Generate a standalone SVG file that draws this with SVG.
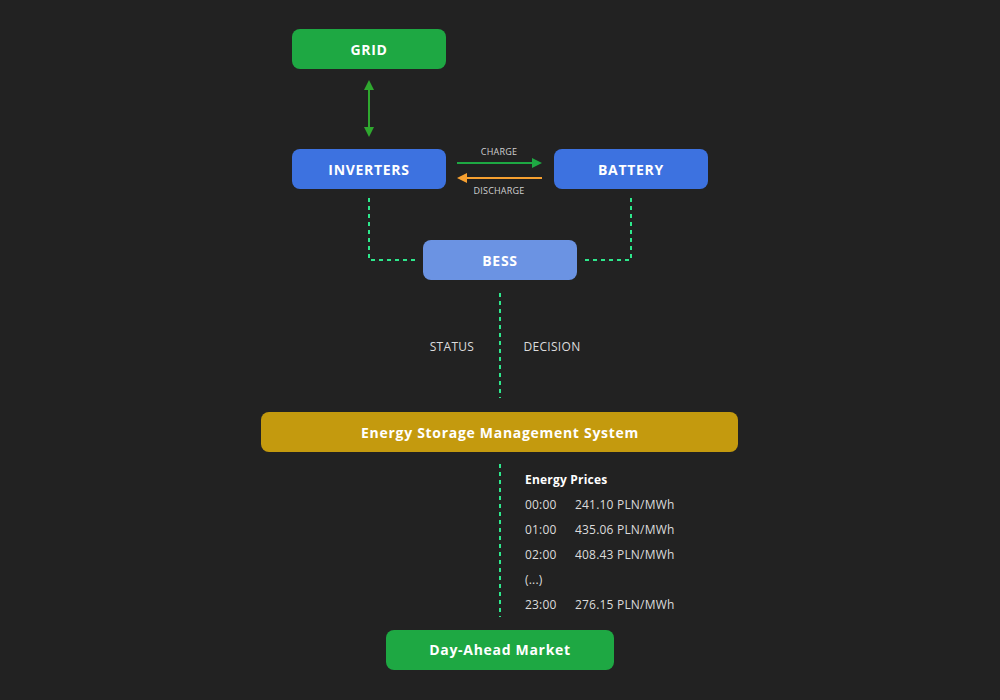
<svg xmlns="http://www.w3.org/2000/svg" width="1000" height="700" viewBox="0 0 1000 700">
<defs>
<style>
.t{font-family:"Open Sans","Liberation Sans",sans-serif;fill:#ffffff;text-anchor:middle;dominant-baseline:central}
.nt{font-size:14px;font-weight:700;letter-spacing:0.7px}
.sm{font-size:9px;fill:#d0d0d0;letter-spacing:0.2px}
.lb{font-size:12px;fill:#dcdcdc;letter-spacing:0.3px}
.pr{font-family:"Open Sans","Liberation Sans",sans-serif;font-size:12px;fill:#dcdcdc;dominant-baseline:central;letter-spacing:0.2px}
.dot{fill:none;stroke:#2ee88c;stroke-width:2;stroke-dasharray:4 4}
</style>
<marker id="ag" viewBox="0 0 10 10" refX="8" refY="5" markerWidth="5" markerHeight="5" orient="auto-start-reverse" markerUnits="strokeWidth"><path d="M0,0L10,5L0,10z" fill="#2fa82f"/></marker>
<marker id="ag2" viewBox="0 0 10 10" refX="8" refY="5" markerWidth="5" markerHeight="5" orient="auto" markerUnits="strokeWidth"><path d="M0,0L10,5L0,10z" fill="#1ea843"/></marker>
<marker id="ao" viewBox="0 0 10 10" refX="8" refY="5" markerWidth="5" markerHeight="5" orient="auto" markerUnits="strokeWidth"><path d="M0,0L10,5L0,10z" fill="#f7a030"/></marker>
</defs>
<rect width="1000" height="700" fill="#222222"/>
<g id="connectors">
<line x1="369" y1="82" x2="369" y2="135" stroke="#2fa82f" stroke-width="2" marker-start="url(#ag)" marker-end="url(#ag)"/>
<line x1="457" y1="163" x2="540" y2="163" stroke="#1ea843" stroke-width="2" marker-end="url(#ag2)"/>
<line x1="542" y1="178" x2="459" y2="178" stroke="#f7a030" stroke-width="2" marker-end="url(#ao)"/>
<text class="t sm" x="499" y="151">CHARGE</text>
<text class="t sm" x="499" y="190">DISCHARGE</text>
<path class="dot" d="M369,198V260H415"/>
<path class="dot" d="M631,198V260H585"/>
<path class="dot" d="M500,293V398"/>
<text class="t lb" x="452" y="346">STATUS</text>
<text class="t lb" x="552" y="346">DECISION</text>
<path class="dot" d="M500,464V617"/>
</g>
<g id="grid"><rect x="292" y="29" width="154" height="40" rx="8" fill="#1ea843"/><text class="t nt" x="369" y="49">GRID</text></g>
<g id="inverters"><rect x="292" y="149" width="154" height="40" rx="8" fill="#3d72e0"/><text class="t nt" x="369" y="169">INVERTERS</text></g>
<g id="battery"><rect x="554" y="149" width="154" height="40" rx="8" fill="#3d72e0"/><text class="t nt" x="631" y="169">BATTERY</text></g>
<g id="bess"><rect x="423" y="240" width="154" height="40" rx="8" fill="#6b93e3"/><text class="t nt" x="500" y="260">BESS</text></g>
<g id="esms"><rect x="261" y="412" width="477" height="40" rx="8" fill="#c49a0e"/><text class="t nt" x="500" y="432">Energy Storage Management System</text></g>
<g id="market"><rect x="386" y="630" width="228" height="40" rx="8" fill="#1ea843"/><text class="t nt" x="500" y="649">Day-Ahead Market</text></g>
<g id="prices">
<text class="pr" x="525" y="479" style="font-weight:700;fill:#ffffff">Energy Prices</text>
<text class="pr" x="525" y="504">00:00</text><text class="pr" x="575" y="504">241.10 PLN/MWh</text>
<text class="pr" x="525" y="529">01:00</text><text class="pr" x="575" y="529">435.06 PLN/MWh</text>
<text class="pr" x="525" y="554">02:00</text><text class="pr" x="575" y="554">408.43 PLN/MWh</text>
<text class="pr" x="525" y="579">(...)</text>
<text class="pr" x="525" y="604">23:00</text><text class="pr" x="575" y="604">276.15 PLN/MWh</text>
</g>
</svg>
